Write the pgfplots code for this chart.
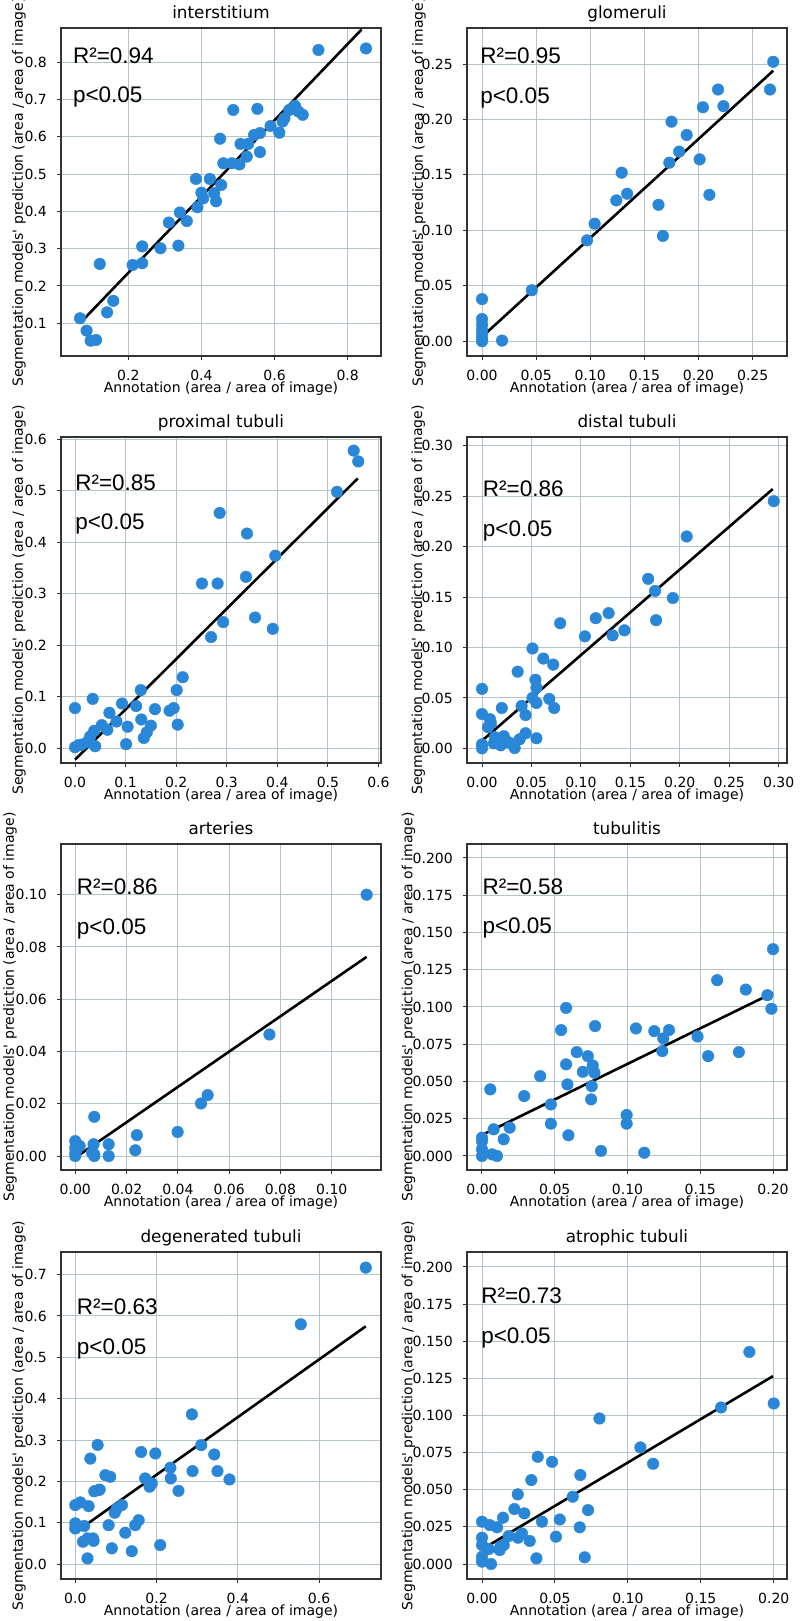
\documentclass[border=0pt]{standalone}
\usepackage{fontspec}
\setmainfont{DejaVu Sans}
\newfontfamily\annfont{Liberation Sans}
\usepackage{pgfplots}
\pgfplotsset{compat=1.18}
\definecolor{dotblue}{HTML}{2A86D6}
\definecolor{gridc}{HTML}{B4C4C8}
\definecolor{framec}{HTML}{333333}
\pgfplotsset{
  panel/.style={
    scale only axis, width=320pt, anchor=south west,
    axis line style={framec, line width=1.3pt},
    grid=major, major grid style={gridc, line width=1pt},
    tick align=outside, major tick length=4pt, tick style={framec, line width=1pt},
    xtick pos=bottom, ytick pos=left,
    ticklabel style={font=\fontsize{14}{16}\selectfont},
    xticklabel style={anchor=base, yshift=-20.5pt},
    yticklabel style={anchor=east, inner xsep=0pt, xshift=-10pt},
    title style={font=\fontsize{16.8}{20}\selectfont, at={(0.5,1)}, anchor=base, yshift=3.5pt},
    xlabel style={font=\fontsize{14}{16}\selectfont, at={(axis description cs:0.5,0)}, anchor=base, yshift=-36.7pt},
    xlabel={Annotation (area / area of image)},
    ylabel={Segmentation models\textquotesingle\ prediction (area / area of image)},
    scaled ticks=false,
  },
  ylab/.style={ylabel style={font=\fontsize{14}{16}\selectfont, at={(axis description cs:#1,0.5)}, anchor=center, rotate=0}},
  dots/.style={only marks, mark=*, mark size=5.8pt, mark options={fill=dotblue, draw=dotblue}},
  fit/.style={black, line width=2.6pt},
}
\newcommand{\ann}[4]{%
  \node[anchor=base west, inner sep=0pt, font=\annfont\fontsize{22.5}{26}\selectfont] at (rel axis cs:#1,#2) {R²=#4};
  \node[anchor=base west, inner sep=0pt, font=\annfont\fontsize{22.5}{26}\selectfont] at (rel axis cs:#1,#3) {p<0.05};
}
\begin{document}
\begin{tikzpicture}
\useasboundingbox (0,0) rectangle (800pt,1621pt);

% interstitium
\begin{axis}[panel, ylab=-0.131, at={(61pt,1265pt)}, height=328pt,
  title={interstitium},
  xmin=0.016, xmax=0.891, ymin=0.012, ymax=0.892,
  xtick={0.2,0.4,0.6,0.8}, xticklabels={0.2,0.4,0.6,0.8},
  ytick={0.1,0.2,0.3,0.4,0.5,0.6,0.7,0.8}, yticklabels={0.1,0.2,0.3,0.4,0.5,0.6,0.7,0.8}]
\addplot[dots] coordinates {
(0.068,0.113) (0.086,0.080) (0.097,0.053) (0.112,0.055) (0.122,0.259) (0.142,0.129)
(0.159,0.160) (0.212,0.256) (0.238,0.306) (0.238,0.261) (0.288,0.301) (0.311,0.370)
(0.337,0.308) (0.341,0.397) (0.360,0.374) (0.385,0.487) (0.389,0.411) (0.400,0.450)
(0.405,0.435) (0.423,0.487) (0.435,0.449) (0.440,0.427) (0.451,0.595) (0.454,0.471)
(0.460,0.529) (0.483,0.529) (0.487,0.672) (0.504,0.526) (0.507,0.581) (0.524,0.547)
(0.528,0.581) (0.544,0.605) (0.553,0.675) (0.560,0.559) (0.560,0.610) (0.589,0.629)
(0.613,0.611) (0.622,0.641) (0.627,0.650) (0.640,0.672) (0.656,0.683) (0.665,0.668)
(0.677,0.659) (0.720,0.833) (0.850,0.837)};
\addplot[fit] coordinates {(0.068,0.100) (0.838,0.888)};
\ann{0.037}{0.893}{0.774}{0.94}
\end{axis}

% glomeruli
\begin{axis}[panel, ylab=-0.15, at={(467pt,1265pt)}, height=328pt,
  title={glomeruli},
  xmin=-0.0139, xmax=0.2817, ymin=-0.0133, ymax=0.2825,
  xtick={0,0.05,0.1,0.15,0.2,0.25}, xticklabels={0.00,0.05,0.10,0.15,0.20,0.25},
  ytick={0,0.05,0.1,0.15,0.2,0.25}, yticklabels={0.00,0.05,0.10,0.15,0.20,0.25}]
\addplot[dots] coordinates {
(0,0.038) (0,0.020) (0,0.015) (0,0.010) (0,0.006) (0,0.002) (0,0.000)
(0.0185,0.0006) (0.046,0.046) (0.097,0.091) (0.104,0.106) (0.124,0.127) (0.129,0.152)
(0.134,0.133) (0.163,0.123) (0.167,0.095) (0.173,0.161) (0.175,0.198) (0.182,0.171)
(0.189,0.186) (0.201,0.164) (0.204,0.211) (0.210,0.132) (0.218,0.227) (0.223,0.212)
(0.266,0.227) (0.269,0.252)};
\addplot[fit] coordinates {(0,0.004) (0.269,0.244)};
\ann{0.041}{0.893}{0.771}{0.95}
\end{axis}

% proximal tubuli
\begin{axis}[panel, ylab=-0.131, at={(61pt,858pt)}, height=326pt,
  title={proximal tubuli},
  xmin=-0.0277, xmax=0.605, ymin=-0.0285, ymax=0.6045,
  xtick={0,0.1,0.2,0.3,0.4,0.5,0.6}, xticklabels={0.0,0.1,0.2,0.3,0.4,0.5,0.6},
  ytick={0,0.1,0.2,0.3,0.4,0.5,0.6}, yticklabels={0.0,0.1,0.2,0.3,0.4,0.5,0.6}]
\addplot[dots] coordinates {
(0,0.078) (0,0.002) (0.007,0.006) (0.013,0.007) (0.024,0.012) (0.030,0.023)
(0.035,0.096) (0.038,0.034) (0.040,0.004) (0.053,0.045) (0.064,0.036) (0.068,0.069)
(0.082,0.052) (0.093,0.087) (0.101,0.008) (0.104,0.042) (0.121,0.082) (0.130,0.113)
(0.131,0.056) (0.136,0.020) (0.142,0.031) (0.150,0.044) (0.158,0.076) (0.187,0.073)
(0.195,0.078) (0.201,0.113) (0.203,0.046) (0.213,0.138) (0.251,0.320) (0.269,0.216)
(0.282,0.320) (0.286,0.457) (0.293,0.245) (0.338,0.333) (0.340,0.417) (0.356,0.254)
(0.391,0.232) (0.396,0.374) (0.518,0.498) (0.551,0.578) (0.560,0.557)};
\addplot[fit] coordinates {(0,-0.022) (0.559,0.524)};
\ann{0.044}{0.837}{0.715}{0.85}
\end{axis}

% distal tubuli
\begin{axis}[panel, ylab=-0.152, at={(467pt,858pt)}, height=326pt,
  title={distal tubuli},
  xmin=-0.0152, xmax=0.3084, ymin=-0.0145, ymax=0.3086,
  xtick={0,0.05,0.1,0.15,0.2,0.25,0.3}, xticklabels={0.00,0.05,0.10,0.15,0.20,0.25,0.30},
  ytick={0,0.05,0.1,0.15,0.2,0.25,0.3}, yticklabels={0.00,0.05,0.10,0.15,0.20,0.25,0.30}]
\addplot[dots] coordinates {
(0,0.059) (0,0.034) (0,0.004) (0,0.000) (0.006,0.021) (0.008,0.029) (0.009,0.025)
(0.012,0.005) (0.013,0.011) (0.015,0.006) (0.019,0.003) (0.020,0.040) (0.022,0.012)
(0.025,0.007) (0.029,0.005) (0.033,0.0003) (0.036,0.076) (0.038,0.009) (0.040,0.042)
(0.044,0.033) (0.044,0.015) (0.051,0.099) (0.051,0.050) (0.054,0.068) (0.055,0.060)
(0.055,0.045) (0.055,0.010) (0.062,0.089) (0.068,0.049) (0.072,0.083) (0.073,0.040)
(0.079,0.124) (0.104,0.111) (0.115,0.129) (0.128,0.134) (0.132,0.112) (0.144,0.117)
(0.168,0.168) (0.175,0.156) (0.176,0.127) (0.193,0.149) (0.207,0.210) (0.295,0.245)};
\addplot[fit] coordinates {(0,0.0076) (0.294,0.257)};
\ann{0.049}{0.817}{0.696}{0.86}
\end{axis}

% arteries
\begin{axis}[panel, ylab=-0.159, at={(61pt,451pt)}, height=326pt,
  title={arteries},
  xmin=-0.00558, xmax=0.1192, ymin=-0.00535, ymax=0.1194,
  xtick={0,0.02,0.04,0.06,0.08,0.1}, xticklabels={0.00,0.02,0.04,0.06,0.08,0.10},
  ytick={0,0.02,0.04,0.06,0.08,0.1}, yticklabels={0.00,0.02,0.04,0.06,0.08,0.10}]
\addplot[dots] coordinates {
(0,0) (0,0.0013) (0,0.0032) (0,0.0057) (0.0006,0.0045) (0.0017,0.0038) (0.0004,0.0022)
(0.0074,0.0150) (0.0071,0.0045) (0.0074,0.0006) (0.0065,0.0013) (0.0074,0)
(0.0130,0.0045) (0.0130,0) (0.0234,0.0022) (0.0240,0.0080) (0.0399,0.0092)
(0.0490,0.0201) (0.0516,0.0233) (0.0757,0.0465) (0.1136,0.1000)};
\addplot[fit] coordinates {(0,-0.0006) (0.1136,0.0762)};
\ann{0.049}{0.844}{0.722}{0.86}
\end{axis}

% tubulitis
\begin{axis}[panel, ylab=-0.183, at={(467pt,451pt)}, height=326pt,
  title={tubulitis},
  xmin=-0.0103, xmax=0.2096, ymin=-0.0094, ymax=0.2094,
  xtick={0,0.05,0.1,0.15,0.2}, xticklabels={0.00,0.05,0.10,0.15,0.20},
  ytick={0,0.025,0.05,0.075,0.1,0.125,0.15,0.175,0.2},
  yticklabels={0.000,0.025,0.050,0.075,0.100,0.125,0.150,0.175,0.200}]
\addplot[dots] coordinates {
(0,0.0123) (0,0.010) (0,0.0045) (0,0) (0.0057,0.0447) (0.0069,0.0011) (0.008,0.0179)
(0.0103,0) (0.0149,0.0112) (0.019,0.019) (0.029,0.0402) (0.040,0.0536) (0.0473,0.0346)
(0.0473,0.0217) (0.0544,0.0845) (0.0578,0.0994) (0.0578,0.0615) (0.0587,0.0480)
(0.0594,0.0139) (0.0651,0.0697) (0.0693,0.0565) (0.0727,0.0670) (0.0761,0.0608)
(0.0773,0.0559) (0.0754,0.0469) (0.0750,0.0380) (0.0777,0.0872) (0.0818,0.0034)
(0.0994,0.0275) (0.0994,0.0217) (0.1058,0.0856) (0.1115,0.0022) (0.1184,0.0838)
(0.1246,0.0789) (0.1239,0.0704) (0.1285,0.0845) (0.1481,0.0802) (0.1554,0.0670)
(0.1616,0.1180) (0.1765,0.0697) (0.1813,0.1117) (0.1961,0.1079) (0.1989,0.0988)
(0.200,0.1388)};
\addplot[fit] coordinates {(0,0.0141) (0.2,0.1095)};
\ann{0.048}{0.844}{0.724}{0.58}
\end{axis}

% degenerated tubuli
\begin{axis}[panel, ylab=-0.131, at={(61pt,42pt)}, height=327pt,
  title={degenerated tubuli},
  xmin=-0.0352, xmax=0.7525, ymin=-0.0362, ymax=0.7548,
  xtick={0,0.2,0.4,0.6}, xticklabels={0.0,0.2,0.4,0.6},
  ytick={0,0.1,0.2,0.3,0.4,0.5,0.6,0.7}, yticklabels={0.0,0.1,0.2,0.3,0.4,0.5,0.6,0.7}]
\addplot[dots] coordinates {
(0,0.1426) (0,0.0983) (0,0.086) (0.0123,0.149) (0.0189,0.054) (0.022,0.092)
(0.030,0.0137) (0.0328,0.140) (0.030,0.062) (0.037,0.255) (0.0434,0.062) (0.0467,0.176)
(0.055,0.288) (0.060,0.180) (0.045,0.056) (0.057,0.179) (0.074,0.215) (0.082,0.094)
(0.086,0.211) (0.090,0.038) (0.097,0.124) (0.1025,0.1345) (0.1148,0.1426) (0.123,0.0757)
(0.139,0.031) (0.1475,0.094) (0.156,0.106) (0.162,0.271) (0.172,0.207) (0.183,0.187)
(0.1885,0.195) (0.197,0.2675) (0.209,0.046) (0.234,0.233) (0.235,0.207) (0.254,0.177)
(0.287,0.362) (0.2885,0.2248) (0.310,0.2876) (0.342,0.265) (0.350,0.2248)
(0.3795,0.2046) (0.555,0.580) (0.715,0.717)};
\addplot[fit] coordinates {(0,0.0765) (0.715,0.575)};
\ann{0.049}{0.81}{0.687}{0.63}
\end{axis}

% atrophic tubuli
\begin{axis}[panel, ylab=-0.183, at={(467pt,42pt)}, height=327pt,
  title={atrophic tubuli},
  xmin=-0.0103, xmax=0.2091, ymin=-0.0101, ymax=0.2101,
  xtick={0,0.05,0.1,0.15,0.2}, xticklabels={0.00,0.05,0.10,0.15,0.20},
  ytick={0,0.025,0.05,0.075,0.1,0.125,0.15,0.175,0.2},
  yticklabels={0.000,0.025,0.050,0.075,0.100,0.125,0.150,0.175,0.200}]
\addplot[dots] coordinates {
(0,0.0285) (0,0.0177) (0,0.0128) (0,0.0049) (0,0.0016) (0.0053,0.0262) (0.0062,0)
(0.0046,0.0101) (0.0103,0.0247) (0.0121,0.0094) (0.0126,0.0117) (0.0144,0.0312)
(0.0149,0.0128) (0.0183,0.0188) (0.0222,0.0370) (0.0245,0.0469) (0.0247,0.0177)
(0.0274,0.0206) (0.029,0.0341) (0.0327,0.0155) (0.0338,0.0565) (0.0373,0.0038)
(0.0382,0.0722) (0.0411,0.0285) (0.048,0.0688) (0.0507,0.0184) (0.0533,0.0300)
(0.0622,0.0453) (0.067,0.0247) (0.0674,0.0599) (0.0704,0.0045) (0.0727,0.0363)
(0.0805,0.098) (0.1086,0.0785) (0.1173,0.0675) (0.1639,0.1054) (0.1833,0.1428)
(0.200,0.1081)};
\addplot[fit] coordinates {(0,0.0099) (0.1995,0.1265)};
\ann{0.044}{0.843}{0.721}{0.73}
\end{axis}
\end{tikzpicture}
\end{document}
